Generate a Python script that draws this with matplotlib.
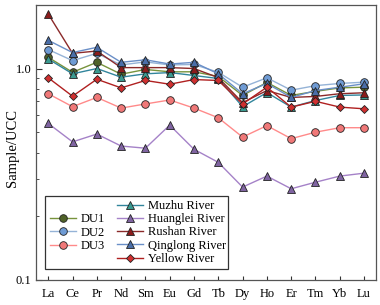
import numpy as np
import matplotlib
matplotlib.use("Agg")
import matplotlib.pyplot as plt
from matplotlib.patches import Rectangle

plt.rcParams['font.family'] = ['Liberation Serif', 'DejaVu Serif']

elements = ['La', 'Ce', 'Pr', 'Nd', 'Sm', 'Eu', 'Gd', 'Tb', 'Dy', 'Ho', 'Er', 'Tm', 'Yb', 'Lu']

# sample / UCC values
du1 = [1.13, 0.96, 1.07, 0.94, 0.99, 0.965, 0.965, 0.917, 0.746, 0.86, 0.746, 0.78, 0.81, 0.816]
du2 = [1.23, 1.09, 1.18, 1.04, 1.075, 1.04, 1.045, 0.96, 0.816, 0.904, 0.79, 0.83, 0.85, 0.862]
du3 = [0.76, 0.66, 0.73, 0.65, 0.68, 0.71, 0.65, 0.585, 0.474, 0.537, 0.466, 0.50, 0.525, 0.525]
muzhu = [1.11, 0.944, 1.0, 0.91, 0.944, 0.957, 0.927, 0.897, 0.66, 0.77, 0.657, 0.706, 0.746, 0.75]
huanglei = [0.55, 0.45, 0.49, 0.43, 0.42, 0.54, 0.415, 0.36, 0.275, 0.31, 0.27, 0.29, 0.31, 0.32]
rushan = [1.81, 1.18, 1.21, 1.01, 1.01, 1.01, 1.00, 0.906, 0.69, 0.787, 0.73, 0.738, 0.76, 0.768]
qinglong = [1.36, 1.19, 1.26, 1.07, 1.10, 1.05, 1.07, 0.944, 0.76, 0.85, 0.73, 0.787, 0.816, 0.847]
yellow = [0.904, 0.74, 0.89, 0.81, 0.878, 0.843, 0.887, 0.878, 0.68, 0.816, 0.657, 0.70, 0.657, 0.645]

x = np.arange(len(elements))

fig = plt.figure(figsize=(3.8, 3.05), dpi=100)
ax = fig.add_axes([0.095, 0.082, 0.895, 0.902])

# (data, label, line colour, face colour, marker, size)
series = [
    (du1, 'DU1', '#77933c', '#4f6228', 'o', 5.5),
    (du2, 'DU2', '#95b3d7', '#6f9bd4', 'o', 5.5),
    (du3, 'DU3', '#ff8a8a', '#f07878', 'o', 5.5),
    (muzhu, 'Muzhu River', '#31859c', '#3a9a90', '^', 6),
    (huanglei, 'Huanglei River', '#a582c8', '#8064a2', '^', 6),
    (rushan, 'Rushan River', '#8b2a2a', '#8b1c1c', '^', 6),
    (qinglong, 'Qinglong River', '#6a8fc8', '#4a6ea8', '^', 6),
    (yellow, 'Yellow River', '#b02020', '#d03030', 'D', 4.5),
]

handles = {}
for vals, lab, lc, fc, m, ms in series:
    h, = ax.plot(x, vals, color=lc, lw=1.0, marker=m, ms=ms,
                 markerfacecolor=fc, markeredgecolor='#222222', markeredgewidth=0.6,
                 label=lab)
    handles[lab] = h

ax.set_yscale('log')
ax.set_ylim(0.1, 2.0)
ax.set_xlim(-0.5, 13.5)
ax.set_xticks(x)
ax.set_xticklabels(elements, fontsize=9)
ax.set_yticks([0.1, 1.0])
ax.set_yticklabels(['0.1', '1.0'], fontsize=9)
ax.tick_params(axis='both', which='both', direction='in', color='#333333')
ax.tick_params(axis='x', length=3, pad=6)
ax.tick_params(axis='y', which='major', length=4)
ax.tick_params(axis='y', which='minor', length=2.5)
ax.set_ylabel('Sample/UCC', fontsize=10.5)
ax.yaxis.set_label_coords(-0.05, 0.48)
for s in ax.spines.values():
    s.set_color('#555555')
    s.set_linewidth(0.9)

# legend frame covering both columns
ax.add_patch(Rectangle((0.026, 0.04), 0.539, 0.265, transform=ax.transAxes,
                       facecolor='white', edgecolor='#333333', lw=0.9, zorder=5))

leg1 = ax.legend([handles[k] for k in ['DU1', 'DU2', 'DU3']], ['DU1', 'DU2', 'DU3'],
                 loc='center left', bbox_to_anchor=(0.041, 0.172), frameon=False,
                 fontsize=9, handlelength=2.1, labelspacing=0.1, handletextpad=0.36,
                 borderpad=0, borderaxespad=0)
leg1.set_zorder(6)
ax.add_artist(leg1)
names2 = ['Muzhu River', 'Huanglei River', 'Rushan River', 'Qinglong River', 'Yellow River']
leg2 = ax.legend([handles[k] for k in names2], names2,
                 loc='center left', bbox_to_anchor=(0.238, 0.173), frameon=False,
                 fontsize=9, handlelength=2.1, labelspacing=0.1, handletextpad=0.36,
                 borderpad=0, borderaxespad=0)
leg2.set_zorder(6)

fig.savefig('out.png', dpi=100)
